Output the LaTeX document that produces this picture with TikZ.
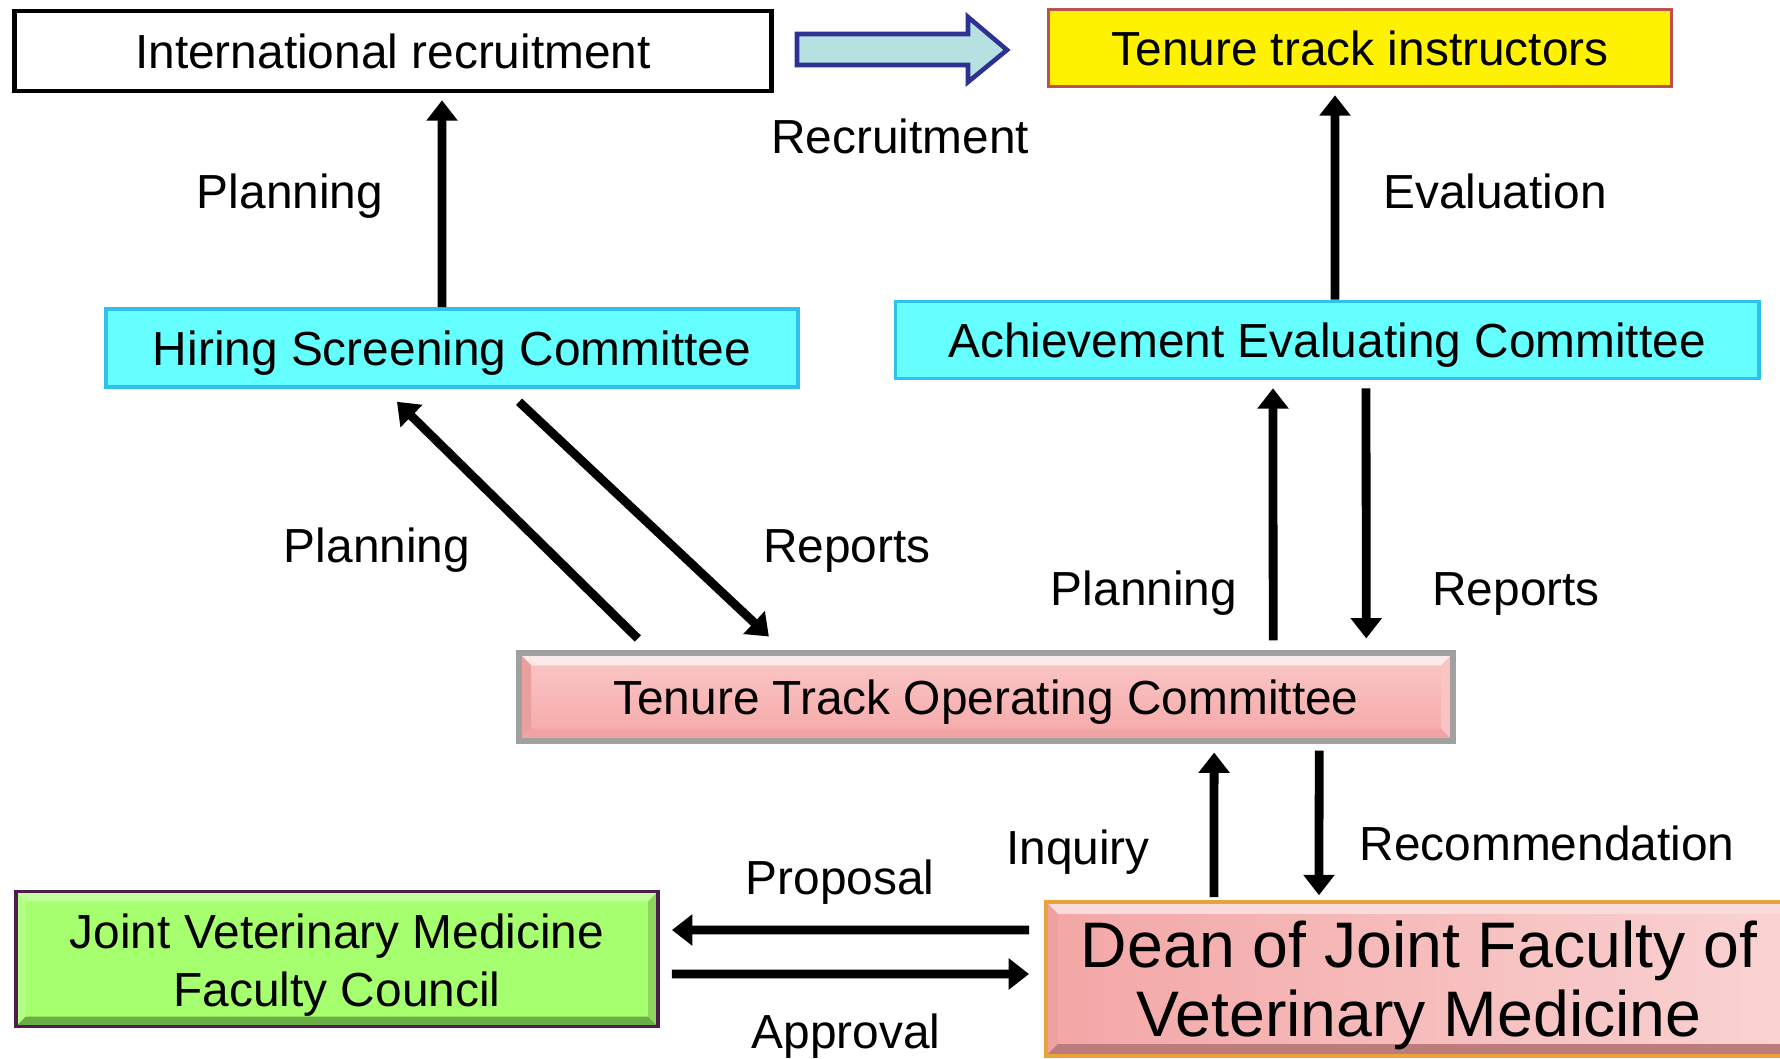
\documentclass[tikz,border=0pt]{standalone}
\usepackage{fontspec}
\setmainfont{Liberation Sans}
\usepackage{xcolor}
\usetikzlibrary{arrows.meta, positioning}

\definecolor{yellowline}{HTML}{C0504D}
\definecolor{cyanfill}{HTML}{66FFFF}
\definecolor{cyanline}{HTML}{30C0EE}
\definecolor{arrowfill}{HTML}{B7E1E1}
\definecolor{arrowline}{HTML}{2E3192}
\definecolor{greyline}{HTML}{A0A0A0}
\definecolor{purpleline}{HTML}{4B1E4B}
\definecolor{orangeline}{HTML}{E8A33A}
% operating committee
\definecolor{optop}{HTML}{FAC8C8}
\definecolor{opbot}{HTML}{F6A8A8}
\definecolor{opbevtop}{HTML}{FCEAEA}
\definecolor{opbevleft}{HTML}{EBA0A0}
\definecolor{opbevbot}{HTML}{EFA3A3}
\definecolor{opbevright}{HTML}{FBC4C4}
% faculty council
\definecolor{greenfill}{HTML}{A6FF6E}
\definecolor{grbevtop}{HTML}{C4FF9E}
\definecolor{grbevleft}{HTML}{B4FF88}
\definecolor{grbevbot}{HTML}{6BAE45}
\definecolor{grbevright}{HTML}{8DD660}
% dean
\definecolor{deanleft}{HTML}{F3A6A6}
\definecolor{deanright}{HTML}{FAD3D3}
\definecolor{dnbevtop}{HTML}{FADADA}
\definecolor{dnbevleft}{HTML}{EFA0A0}
\definecolor{dnbevbot}{HTML}{BC7C7C}
\definecolor{dnbevright}{HTML}{F8CACA}

\tikzset{
  % bevel: depth, top, left, bottom, right
  bevel/.style n args={5}{path picture={
    \fill[#2] (path picture bounding box.north west) -- (path picture bounding box.north east)
      -- ([xshift=-#1,yshift=-#1]path picture bounding box.north east) -- ([xshift=#1,yshift=-#1]path picture bounding box.north west) -- cycle;
    \fill[#3] (path picture bounding box.north west) -- (path picture bounding box.south west)
      -- ([xshift=#1,yshift=#1]path picture bounding box.south west) -- ([xshift=#1,yshift=-#1]path picture bounding box.north west) -- cycle;
    \fill[#4] (path picture bounding box.south west) -- (path picture bounding box.south east)
      -- ([xshift=-#1,yshift=#1]path picture bounding box.south east) -- ([xshift=#1,yshift=#1]path picture bounding box.south west) -- cycle;
    \fill[#5] (path picture bounding box.north east) -- (path picture bounding box.south east)
      -- ([xshift=-#1,yshift=#1]path picture bounding box.south east) -- ([xshift=-#1,yshift=-#1]path picture bounding box.north east) -- cycle;
  }}
}

\begin{document}
\begin{tikzpicture}[x=0.01cm, y=-0.01cm,
    box/.style={rectangle, draw, line width=1pt, inner sep=0pt, align=center, font=\fontsize{13.6}{16.5}\selectfont},
    onebox/.style={box, text height=9.8pt, text depth=0pt},
    cyanbox/.style={onebox, fill=cyanfill, draw=cyanline},
    lbl/.style={inner sep=0pt, text height=9.8pt, text depth=0pt, font=\fontsize{13.6}{16}\selectfont},
    flow/.style={line width=2.5pt, -{Triangle[length=5.8pt,width=8.6pt]}}
]

\useasboundingbox (0,0) rectangle (1780,1058);

% Top row
\node[onebox, minimum width=7.56cm, minimum height=0.80cm, line width=1.3pt] (intl) at (393,51) {International recruitment};
\node[onebox, fill=yellow, draw=yellowline, minimum width=6.23cm, minimum height=0.77cm] (tenure) at (1360,48) {Tenure track instructors};

% Recruitment block arrow
\filldraw[fill=arrowfill, draw=arrowline, line width=1.3pt]
  (797,34) -- (968,34) -- (968,17) -- (1007,50) -- (968,82) -- (968,65) -- (797,65) -- cycle;
\node[lbl] (recruit) at (900,136) {Recruitment};

% Committees
\node[cyanbox, minimum width=6.92cm, minimum height=0.78cm] (hiring) at (452,348) {Hiring Screening Committee};
\node[cyanbox, minimum width=8.63cm, minimum height=0.77cm] (achieve) at (1327,340) {Achievement Evaluating Committee};

\node[onebox, top color=optop, bottom color=opbot, draw=greyline, line width=1.7pt,
  minimum width=9.33cm, minimum height=0.87cm,
  bevel={0.12cm}{opbevtop}{opbevleft}{opbevbot}{opbevright}] (operating) at (986,697) {Tenure Track Operating Committee};

% Bottom row
\node[box, fill=greenfill, draw=purpleline, minimum width=6.42cm, minimum height=1.35cm,
  bevel={0.1cm}{grbevtop}{grbevleft}{grbevbot}{grbevright}] (council) at (337,959)
  {\rule{0pt}{13.3pt}Joint Veterinary Medicine\\Faculty Council};
\node[box, left color=deanleft, right color=deanright, draw=orangeline, minimum width=7.46cm, minimum height=1.54cm,
  bevel={0.12cm}{dnbevtop}{dnbevleft}{dnbevbot}{dnbevright},
  font=\fontsize{18.3}{19.6}\selectfont] (dean) at (1419,979) {\rule{0pt}{16.8pt}Dean of Joint Faculty of\\Veterinary Medicine};

% Upper arrows
\draw[flow, shorten >=0.07cm] ([xshift=-0.10cm]hiring.north) -- ([xshift=0.49cm]intl.south);
\draw[flow, shorten >=0.07cm] ([xshift=0.08cm]achieve.north) -- ([xshift=-0.25cm]tenure.south);
\node[lbl] (plan1) at (290,191) {Planning};
\node[lbl] (eval) at (1495,191) {Evaluation};

% Operating committee to hiring / achievement
\draw[flow] ([xshift=-3.48cm,yshift=0.12cm]operating.north) -- ([xshift=-0.55cm,yshift=-0.13cm]hiring.south);
\draw[flow] ([xshift=0.67cm,yshift=-0.13cm]hiring.south) -- ([xshift=-2.17cm,yshift=0.14cm]operating.north);
\draw[flow] ([xshift=2.87cm,yshift=0.10cm]operating.north) -- ([xshift=-0.54cm,yshift=-0.08cm]achieve.south);
\draw[flow] ([xshift=0.39cm,yshift=-0.08cm]achieve.south) -- ([xshift=3.80cm,yshift=0.12cm]operating.north);
\node[lbl] (plan2) at (377,545) {Planning};
\node[lbl] (rep1) at (847,545) {Reports};
\node[lbl] (plan3) at (1144,588) {Planning};
\node[lbl] (rep2) at (1516,588) {Reports};

% Dean and operating committee
\draw[flow] ([xshift=-2.05cm,yshift=0.03cm]dean.north) -- ([xshift=2.28cm,yshift=-0.09cm]operating.south);
\draw[flow] ([xshift=3.33cm,yshift=-0.07cm]operating.south) -- ([xshift=-1.00cm,yshift=0.05cm]dean.north);
\node[lbl] (inq) at (1078,847) {Inquiry};
\node[lbl] (recom) at (1547,843) {Recommendation};

% Dean and faculty council
\draw[flow] ([xshift=-0.15cm,yshift=0.49cm]dean.west) -- ([xshift=0.12cm,yshift=0.29cm]council.east);
\draw[flow] ([xshift=0.12cm,yshift=-0.15cm]council.east) -- ([xshift=-0.15cm,yshift=0.05cm]dean.west);
\node[lbl] (prop) at (840,877) {Proposal};
\node[lbl] (appr) at (846,1031) {Approval};

\end{tikzpicture}
\end{document}
